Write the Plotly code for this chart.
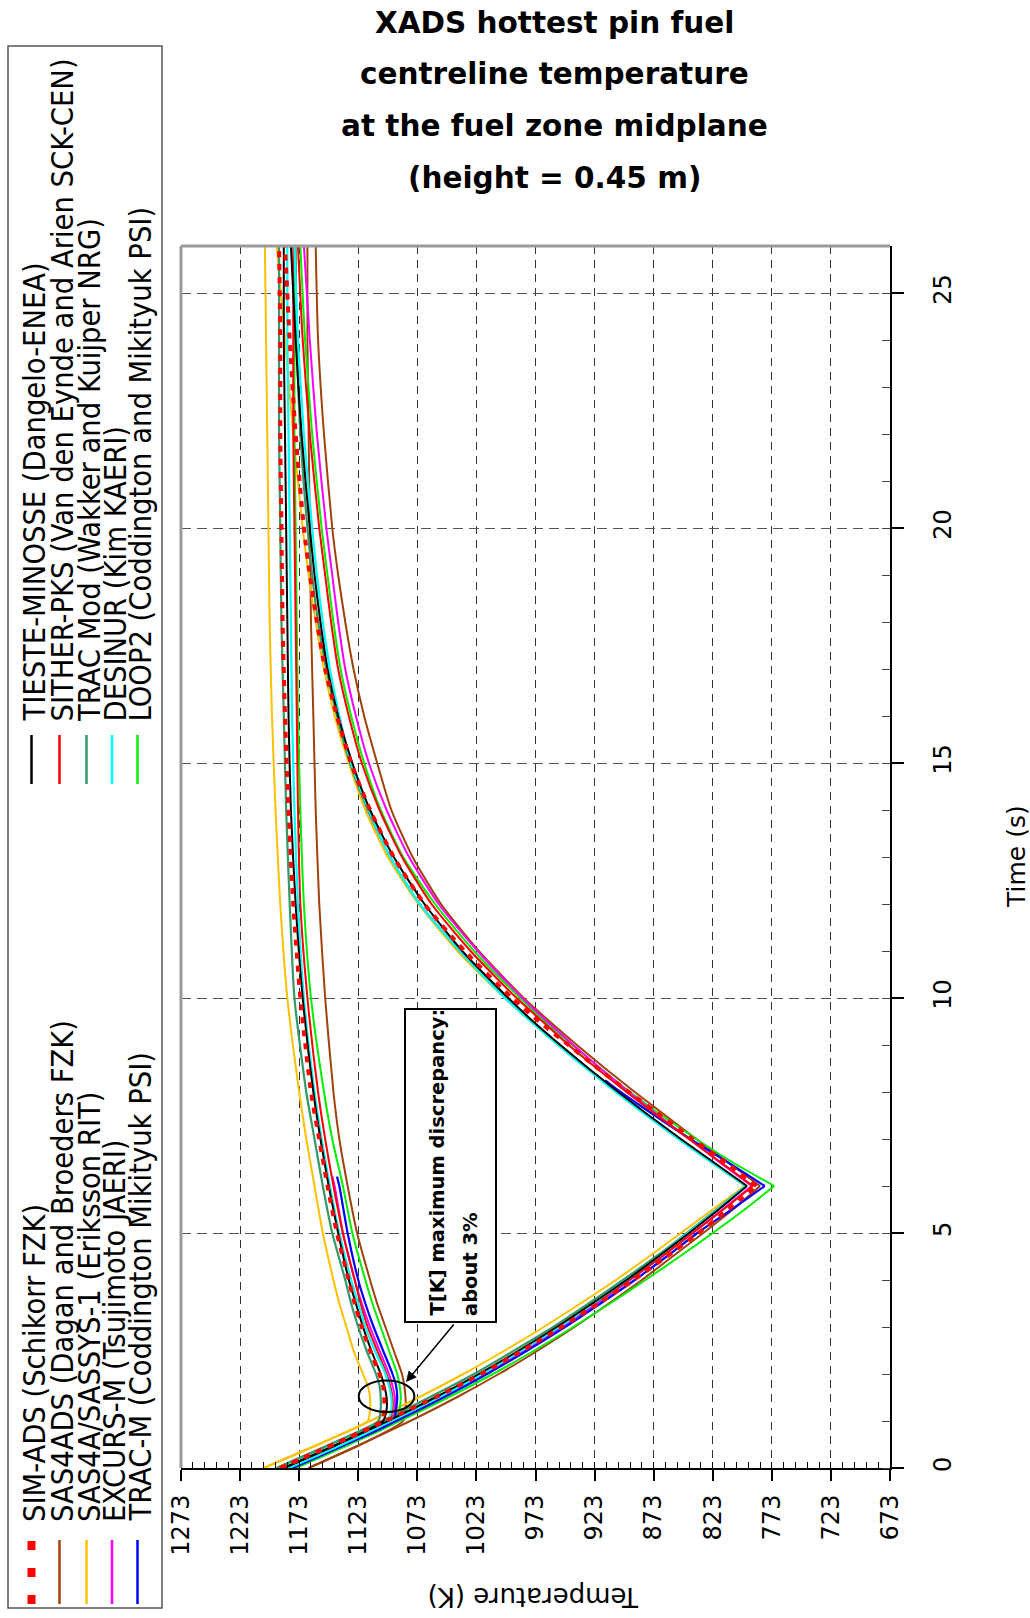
import plotly.graph_objects as go

# ---------------- data (time in s, temperature in K) ----------------
TIME_A = [0, 0.5, 1.0, 1.25, 1.5, 1.75, 2.0, 2.5, 3.0, 3.5, 4, 5, 6, 7, 8, 10, 12, 14, 16, 18, 20, 22, 24, 26]
TIME_A_SHORT = [0, 0.5, 1.0, 1.25, 1.5, 1.75, 2.0, 2.5, 3.0, 3.5, 4, 5, 6, 6.2]
TIME_DOWN = [0, 0.5, 1.0, 1.5, 2.0, 2.5, 3.0, 3.5, 4.0, 4.5, 5.0, 5.5, 6.0]
TIME_UP = [6, 6.5, 7, 7.5, 8, 8.5, 9, 9.5, 10, 11, 12, 13, 14, 15, 16, 17, 18, 19, 20, 22, 24, 26]
TIME_UP_TRACM = [6, 6.5, 7, 7.5, 8, 8.25]

SIMADS_A = [1189, 1144, 1103, 1101, 1101, 1102, 1105, 1113, 1120, 1126, 1131, 1141, 1149, 1156, 1163, 1172, 1178, 1182, 1185, 1187, 1188, 1189, 1189, 1190]
SIMADS_DOWN = [1189, 1144, 1100, 1058, 1019, 984, 951, 920, 890, 862, 835, 810, 786]
SIMADS_UP = [786, 812, 840, 867, 894, 920, 945, 970, 993, 1033, 1067, 1093, 1113, 1129, 1141, 1151, 1158, 1164, 1169, 1176, 1181, 1185]

SAS4ADS_A = [1165, 1121, 1085, 1083, 1083, 1084, 1086, 1093, 1100, 1107, 1113, 1124, 1132, 1139, 1144, 1151, 1156, 1159, 1161, 1163, 1164, 1165, 1166, 1166]
SAS4ADS_DOWN = [1165, 1121, 1079, 1040, 1004, 971, 940, 911, 883, 857, 831, 806, 783]
SAS4ADS_UP = [783, 810, 837, 863, 889, 914, 938, 961, 983, 1021, 1053, 1077, 1095, 1107, 1118, 1127, 1134, 1140, 1145, 1152, 1157, 1159]

SASSYS_A = [1203, 1157, 1115, 1113, 1113, 1115, 1119, 1127, 1133, 1139, 1144, 1153, 1160, 1167, 1173, 1183, 1189, 1193, 1196, 1198, 1199, 1200, 1201, 1202]
SASSYS_DOWN = [1203, 1157, 1113, 1072, 1034, 999, 966, 935, 905, 877, 850, 823, 796]
SASSYS_UP = [796, 824, 852, 879, 905, 930, 954, 977, 999, 1039, 1072, 1098, 1117, 1131, 1143, 1152, 1159, 1165, 1170, 1178, 1185, 1192]

EXCURS_A = [1180, 1135, 1094, 1092, 1092, 1094, 1097, 1105, 1113, 1120, 1126, 1136, 1143, 1145]
EXCURS_DOWN = [1180, 1135, 1092, 1052, 1016, 982, 951, 921, 893, 866, 840, 815, 790]
EXCURS_UP = [790, 817, 843, 869, 894, 918, 941, 963, 984, 1022, 1055, 1080, 1099, 1114, 1125, 1134, 1140, 1145, 1150, 1158, 1164, 1169]

TRACM_A = [1179, 1134, 1093, 1091, 1090, 1091, 1094, 1102, 1110, 1117, 1123, 1132, 1139, 1141]
TRACM_DOWN = [1179, 1134, 1091, 1051, 1014, 980, 948, 918, 889, 862, 836, 807, 779]
TRACM_UP = [779, 810, 842, 872, 901, 914]

TIESTE_A = [1186, 1141, 1102, 1099, 1099, 1101, 1104, 1112, 1119, 1125, 1131, 1140, 1148, 1155, 1161, 1170, 1176, 1180, 1182, 1183, 1184, 1185, 1186, 1186]
TIESTE_DOWN = [1186, 1141, 1098, 1058, 1021, 987, 955, 925, 896, 869, 843, 818, 794]
TIESTE_UP = [794, 822, 850, 877, 903, 928, 952, 975, 996, 1035, 1067, 1093, 1113, 1128, 1140, 1149, 1155, 1160, 1164, 1171, 1176, 1180]

SITHER_A = [1184, 1139, 1097, 1094, 1094, 1096, 1099, 1107, 1115, 1121, 1126, 1136, 1144, 1151, 1157, 1166, 1172, 1174, 1175, 1176, 1177, 1178, 1178, 1178]
SITHER_DOWN = [1184, 1139, 1096, 1056, 1019, 985, 953, 923, 894, 866, 840, 814, 789]
SITHER_UP = [789, 816, 843, 870, 896, 921, 945, 967, 989, 1028, 1061, 1086, 1105, 1120, 1131, 1140, 1146, 1151, 1156, 1164, 1170, 1174]

TRACMOD_A = [1192, 1147, 1106, 1104, 1104, 1105, 1108, 1116, 1123, 1129, 1134, 1145, 1153, 1160, 1167, 1177, 1181, 1184, 1186, 1188, 1189, 1190, 1190, 1190]
TRACMOD_DOWN = [1192, 1147, 1103, 1063, 1025, 991, 958, 928, 899, 871, 845, 820, 795]
TRACMOD_UP = [795, 823, 851, 878, 904, 929, 953, 976, 998, 1037, 1071, 1096, 1115, 1130, 1141, 1150, 1157, 1162, 1166, 1172, 1175, 1176]

DESINUR_A = [1182, 1137, 1098, 1095, 1095, 1097, 1100, 1109, 1117, 1123, 1129, 1139, 1147, 1154, 1160, 1169, 1174, 1177, 1179, 1180, 1181, 1182, 1183, 1183]
DESINUR_DOWN = [1182, 1137, 1095, 1055, 1018, 985, 953, 924, 896, 869, 844, 819, 795]
DESINUR_UP = [795, 824, 852, 879, 905, 930, 954, 977, 999, 1037, 1071, 1096, 1114, 1129, 1139, 1147, 1153, 1158, 1162, 1169, 1174, 1177]

LOOP2_A = [1176, 1131, 1090, 1088, 1087, 1088, 1090, 1097, 1104, 1111, 1117, 1128, 1136, 1145, 1152, 1163, 1169, 1172, 1174, 1175, 1176, 1177, 1177, 1177]
LOOP2_DOWN = [1176, 1131, 1088, 1047, 1009, 974, 941, 910, 880, 851, 823, 796, 771]
LOOP2_UP = [771, 806, 837, 866, 893, 918, 942, 965, 986, 1025, 1058, 1085, 1104, 1118, 1129, 1138, 1144, 1149, 1154, 1162, 1168, 1172]

LEGEND_LEFT = ["SIM-ADS (Schikorr FZK)", "SAS4ADS (Dagan and Broeders FZK)",
               "SAS4A/SASSYS-1 (Eriksson RIT)", "EXCURS-M (Tsujimoto JAERI)",
               "TRAC-M (Coddington Mikityuk PSI)"]
LEGEND_RIGHT = ["TIESTE-MINOSSE (Dangelo-ENEA)", "SITHER-PKS (Van den Eynde and Arien SCK-CEN)",
                "TRAC Mod (Wakker and Kuijper NRG)", "DESINUR (Kim KAERI)",
                "LOOP2 (Coddington and Mikityuk PSI)"]
TEMP_TICKS = [1273, 1223, 1173, 1123, 1073, 1023, 973, 923, 873, 823, 773, 723, 673]
TIME_TICKS = [0, 5, 10, 15, 20, 25]
TITLE_LINES = ["XADS hottest pin fuel", "centreline temperature",
               "at the fuel zone midplane", "(height = 0.45 m)"]

# ---------------- styling ----------------
FONT = "DejaVu Sans"
LEG_FONT = "DejaVu Sans Condensed, DejaVu Sans"
L, R, T, B = 181, 890, 246, 1468


def px(x):
    return (x - L) / (R - L)


def py(y):
    return (B - y) / (B - T)


series = [
    ("SAS4ADS", TIME_A, SAS4ADS_A, SAS4ADS_DOWN, TIME_UP, SAS4ADS_UP, "#a0410d", 2, "solid"),
    ("SAS4A", TIME_A, SASSYS_A, SASSYS_DOWN, TIME_UP, SASSYS_UP, "#ffc000", 2, "solid"),
    ("TRACMOD", TIME_A, TRACMOD_A, TRACMOD_DOWN, TIME_UP, TRACMOD_UP, "#339966", 2.2, "solid"),
    ("LOOP2", TIME_A, LOOP2_A, LOOP2_DOWN, TIME_UP, LOOP2_UP, "#00ee00", 2, "solid"),
    ("EXCURS", TIME_A_SHORT, EXCURS_A, EXCURS_DOWN, TIME_UP, EXCURS_UP, "#ff00ff", 2, "solid"),
    ("TRACM", TIME_A_SHORT, TRACM_A, TRACM_DOWN, TIME_UP_TRACM, TRACM_UP, "#0000ff", 2.2, "solid"),
    ("SITHER", TIME_A, SITHER_A, SITHER_DOWN, TIME_UP, SITHER_UP, "#ff0000", 2, "solid"),
    ("DESINUR", TIME_A, DESINUR_A, DESINUR_DOWN, TIME_UP, DESINUR_UP, "#00ffff", 2.2, "solid"),
    ("TIESTE", TIME_A, TIESTE_A, TIESTE_DOWN, TIME_UP, TIESTE_UP, "#000000", 2, "solid"),
    ("SIMADS", TIME_A, SIMADS_A, SIMADS_DOWN, TIME_UP, SIMADS_UP, "#ff0000", 4, "6px,7px"),
]

fig = go.Figure()
for name, ta, va, vd, tu, vu, col, w, dash in series:
    xs = list(va) + [None] + list(vd) + [None] + list(vu)
    ys = list(ta) + [None] + list(TIME_DOWN) + [None] + list(tu)
    fig.add_trace(go.Scatter(x=xs, y=ys, mode="lines", name=name, showlegend=False,
                             connectgaps=False,
                             line=dict(color=col, width=w, dash=dash, shape="spline", smoothing=0.6)))

fig.update_layout(
    width=1030, height=1618,
    margin=dict(l=L, r=1030 - R, t=T, b=1618 - B, pad=0),
    paper_bgcolor="white", plot_bgcolor="white",
    font=dict(family=FONT, color="black"),
    showlegend=False,
)
fig.update_xaxes(
    range=[1273, 673], tickmode="array", tickvals=TEMP_TICKS, ticktext=[str(v) for v in TEMP_TICKS],
    tickangle=-90, tickfont=dict(size=24, family=FONT),
    ticks="outside", ticklen=11, tickwidth=1.5, tickcolor="black",
    showline=True, linecolor="black", linewidth=2, mirror=False, zeroline=False,
    showgrid=True, gridcolor="#333333", gridwidth=1, griddash="8px,6px",
    minor=dict(tickmode="linear", tick0=673, dtick=10, ticks="inside", ticklen=6,
               tickcolor="black", tickwidth=1, showgrid=False),
    ticklabelstandoff=4,
)
fig.update_yaxes(
    range=[0, 26], side="right", tickmode="array", tickvals=TIME_TICKS,
    ticktext=[str(v) for v in TIME_TICKS],
    tickangle=-90, tickfont=dict(size=24, family=FONT),
    ticks="outside", ticklen=12, tickwidth=1.5, tickcolor="black",
    showline=True, linecolor="black", linewidth=2, mirror=False, zeroline=False,
    showgrid=True, gridcolor="#555555", gridwidth=1.3, griddash="10px,6px",
    minor=dict(tickmode="linear", tick0=0, dtick=1, ticks="inside", ticklen=8,
               tickcolor="#444444", tickwidth=1, showgrid=False),
    ticklabelstandoff=18,
)

shapes = []
shapes.append(dict(type="line", xref="paper", yref="paper", x0=0, x1=1, y0=1, y1=1,
                   line=dict(color="#999999", width=3)))
shapes.append(dict(type="line", xref="paper", yref="paper", x0=0, x1=0, y0=0, y1=1,
                   line=dict(color="#999999", width=3)))
shapes.append(dict(type="rect", xref="paper", yref="paper", x0=px(8), x1=px(162), y0=py(1608), y1=py(46),
                   line=dict(color="#555555", width=1.5), fillcolor="rgba(0,0,0,0)"))
shapes.append(dict(type="rect", xref="paper", yref="paper", x0=px(405), x1=px(496), y0=py(1322), y1=py(1009),
                   line=dict(color="black", width=2), fillcolor="white"))
shapes.append(dict(type="circle", xref="x", yref="y", x0=1122.6, x1=1075.5, y0=1.19, y1=1.86,
                   line=dict(color="black", width=2)))

annotations = []
left_cols = [34, 62, 89, 114.5, 140]
left_styles = [("#ff0000", 8, "9px,18px"), ("#a0410d", 2.5, "solid"), ("#ffc000", 2.5, "solid"),
               ("#ff00ff", 2.5, "solid"), ("#0000ff", 2.5, "solid")]
right_styles = [("#000000", 2.5, "solid"), ("#ff0000", 2.5, "solid"), ("#339966", 2.5, "solid"),
                ("#00ffff", 2.5, "solid"), ("#00ee00", 2.5, "solid")]
for i, cx in enumerate(left_cols):
    col, w, dash = left_styles[i]
    shapes.append(dict(type="line", xref="paper", yref="paper", x0=px(cx - 2.5), x1=px(cx - 2.5),
                       y0=py(1604), y1=py(1540), line=dict(color=col, width=w, dash=dash)))
    annotations.append(dict(text=LEGEND_LEFT[i], xref="paper", yref="paper", x=px(cx), y=py(1524),
                            xanchor="center", yanchor="bottom", textangle=-90, showarrow=False,
                            font=dict(size=30.5, family=LEG_FONT, color="black")))
    col, w, dash = right_styles[i]
    shapes.append(dict(type="line", xref="paper", yref="paper", x0=px(cx - 2.5), x1=px(cx - 2.5),
                       y0=py(784), y1=py(735), line=dict(color=col, width=w, dash=dash)))
    annotations.append(dict(text=LEGEND_RIGHT[i], xref="paper", yref="paper", x=px(cx), y=py(724),
                            xanchor="center", yanchor="bottom", textangle=-90, showarrow=False,
                            font=dict(size=30.5, family=LEG_FONT, color="black")))

for i, line in enumerate(TITLE_LINES):
    annotations.append(dict(text="<b>" + line + "</b>", xref="paper", yref="paper", x=px(554),
                            y=py(23 + i * 51.5), xanchor="center", yanchor="middle", showarrow=False,
                            font=dict(size=29.5, family=FONT, color="black")))

annotations.append(dict(text="Temperature (K)", xref="paper", yref="paper", x=px(534), y=py(1597),
                        xanchor="center", yanchor="middle", textangle=180, showarrow=False,
                        font=dict(size=26, family=FONT, color="black")))
annotations.append(dict(text="Time (s)", xref="paper", yref="paper", x=px(1016), y=py(857),
                        xanchor="center", yanchor="middle", textangle=-90, showarrow=False,
                        font=dict(size=25, family=FONT, color="black")))

annotations.append(dict(text="<b>T[K] maximum discrepancy:</b>", xref="paper", yref="paper",
                        x=px(437), y=py(1318), xanchor="center", yanchor="bottom", textangle=-90,
                        showarrow=False, font=dict(size=19.5, family=FONT, color="black")))
annotations.append(dict(text="<b>about 3%</b>", xref="paper", yref="paper",
                        x=px(470), y=py(1318), xanchor="center", yanchor="bottom", textangle=-90,
                        showarrow=False, font=dict(size=19.5, family=FONT, color="black")))
annotations.append(dict(text="", xref="paper", yref="paper", x=px(406), y=py(1382),
                        ax=49, ay=-59, axref="pixel", ayref="pixel",
                        showarrow=True, arrowhead=2, arrowsize=1.4, arrowwidth=1.5, arrowcolor="black"))

fig.update_layout(shapes=shapes, annotations=annotations)
fig.write_html("out.html")
